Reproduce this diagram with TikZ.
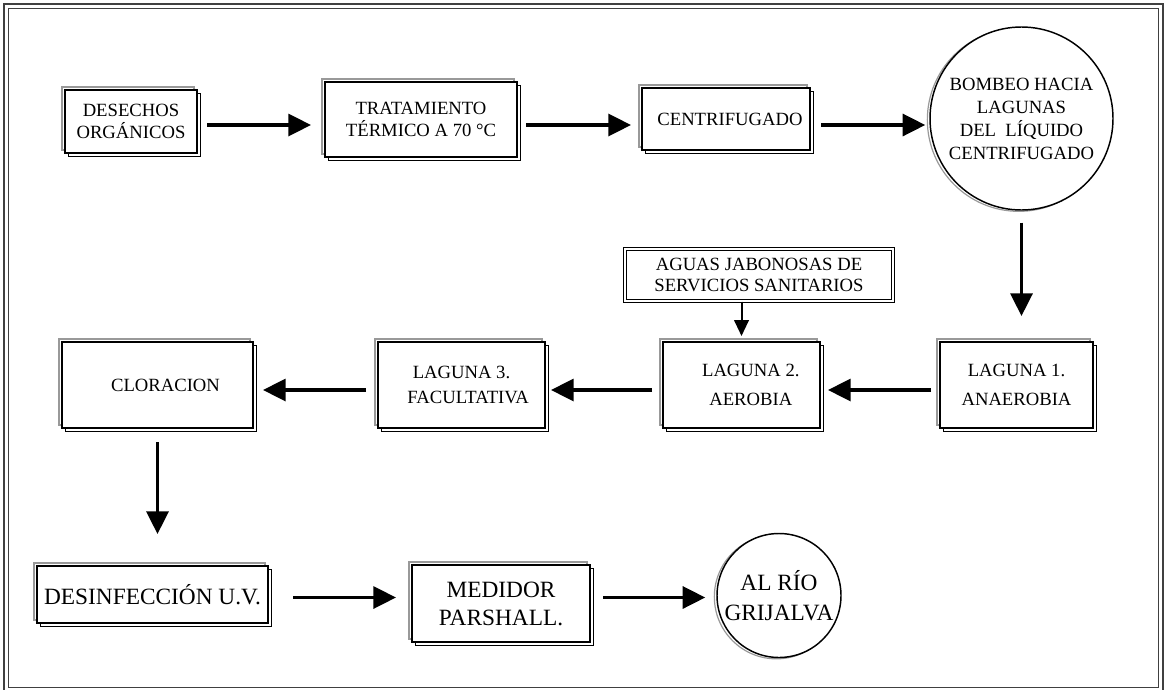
\documentclass[tikz,border=0pt]{standalone}
\usepackage{fontspec}
\setmainfont{Liberation Serif}
\usetikzlibrary{arrows.meta,shadows}
\tikzstyle{flecha} = [line width=2.5pt,-{Triangle[length=17pt,width=16.5pt]}]
\tikzstyle{flechita} = [line width=1.5pt,-{Triangle[length=12pt,width=11pt]}]
\tikzset{
  wbox/.style={draw, line width=1.5pt, fill=white, inner sep=0pt, align=center,
    font=\fontsize{14}{17}\selectfont,
    general shadow={draw=black!40, fill=none, line width=1pt, shadow xshift=-2.2pt, shadow yshift=2.2pt},
    general shadow={draw=black, fill=none, line width=0.6pt, shadow xshift=2.2pt, shadow yshift=-2.2pt}},
  dbox/.style={draw, double=white, line width=1.1pt, double distance=1.3pt, fill=white,
    inner sep=0pt, align=center},
  wcirc/.style={draw, circle, line width=1.1pt, fill=white, inner sep=0pt, align=center,
    font=\fontsize{14}{17.25}\selectfont,
    general shadow={draw=black!40, fill=none, line width=0.9pt, shadow xshift=-2pt, shadow yshift=-1pt}},
  grande/.style={font=\fontsize{17.5}{21}\selectfont},
}
\begin{document}
\begin{tikzpicture}[x=0.75pt,y=-0.75pt]
\useasboundingbox (0,0) rectangle (1167,689);
% marco
\draw[black!75, line width=0.8pt] (4,4) rectangle (1163,695);
\draw[black!75, line width=0.8pt] (8.5,8.5) rectangle (1158.5,687.5);

% niveles de las flechas
\coordinate (row1) at (0,125);
\coordinate (row2) at (0,390);
\coordinate (row3) at (0,597.5);

% primera fila
\node[wbox, minimum width=99pt, minimum height=47.25pt] (desechos) at (131,121.5) {DESECHOS\\ORGÁNICOS};
\node[wbox, minimum width=144pt, minimum height=56.25pt] (termico) at (421,119.5) {TRATAMIENTO\\TÉRMICO A 70~°C};
\node[wbox, minimum width=126pt, minimum height=46.5pt] (centri) at (726,119) {\hspace*{6pt}CENTRIFUGADO};
\node[wcirc, minimum size=137.25pt] (bombeo) at (1021.5,118.5) {BOMBEO HACIA\\LAGUNAS\\DEL~ LÍQUIDO\\CENTRIFUGADO};

% segunda fila
\node[dbox, font=\fontsize{14}{15.6}\selectfont, minimum width=201pt, minimum height=39pt] (jabon) at (759,275) {AGUAS JABONOSAS DE\\SERVICIOS SANITARIOS};
\node[wbox, font=\fontsize{14}{22}\selectfont, minimum width=114.75pt, minimum height=64.5pt] (lag1) at (1016.5,385) {LAGUNA 1.\\ANAEROBIA};
\node[wbox, font=\fontsize{14}{22}\selectfont, minimum width=117.75pt, minimum height=64.5pt] (lag2) at (741.5,385) {\hspace*{14pt}LAGUNA 2.\\\hspace*{14pt}AEROBIA};
\node[wbox, font=\fontsize{14}{19}\selectfont, minimum width=125.25pt, minimum height=64.5pt] (lag3) at (461.5,385) {LAGUNA 3.\\\hspace*{10pt}FACULTATIVA};
\node[wbox, minimum width=143.25pt, minimum height=64.5pt] (cloro) at (157.5,385) {\hspace*{12pt}CLORACION};

% tercera fila
\node[wbox, grande, minimum width=173.25pt, minimum height=42.75pt] (uv) at (152.5,594.5) {DESINFECCIÓN U.V.};
\node[wbox, grande, minimum width=133.5pt, minimum height=57.75pt] (parshall) at (501,603.5) {MEDIDOR\\PARSHALL.};
\node[wcirc, grande, font=\fontsize{17.5}{22.5}\selectfont, minimum size=93pt] (rio) at (779,595.5) {AL RÍO\\GRIJALVA};

% flechas
\draw[flecha, shorten <=6.75pt, shorten >=9.75pt] (desechos.east |- row1) -- (termico.west |- row1);
\draw[flecha, shorten <=6pt, shorten >=7.5pt] (termico.east |- row1) -- (centri.west |- row1);
\draw[flecha, shorten <=7.5pt, shorten >=3pt] (centri.east |- row1) -- (bombeo.west |- row1);
\draw[flecha, shorten <=9pt, shorten >=18.75pt] (bombeo.south) -- (bombeo.south |- lag1.north);
\draw[flechita, shorten >=3.75pt] (lag2.north |- jabon.south) -- (lag2.north);
\draw[flecha, shorten <=6pt, shorten >=5.25pt] (lag1.west |- row2) -- (lag2.east |- row2);
\draw[flecha, shorten <=7.5pt, shorten >=3.75pt] (lag2.west |- row2) -- (lag3.east |- row2);
\draw[flecha, shorten <=8.25pt, shorten >=6.75pt] (lag3.west |- row2) -- (cloro.east |- row2);
\draw[flecha, shorten <=9.75pt, shorten >=23.25pt] (cloro.south) -- (cloro.south |- uv.north);
\draw[flecha, shorten <=18pt, shorten >=11.25pt] (uv.east |- row3) -- (parshall.west |- row3);
\draw[flecha, shorten <=9pt, shorten >=8.25pt] (parshall.east |- row3) -- (rio.west |- row3);
\end{tikzpicture}
\end{document}
